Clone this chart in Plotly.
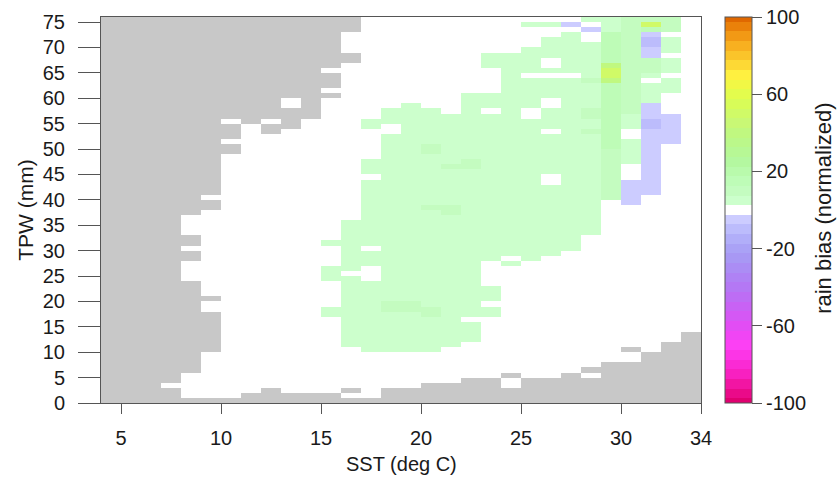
import plotly.graph_objects as go

# ---------------- data ----------------
sst_edges = [4, 34]            # SST axis range (deg C), 1-degree bins
tpw_edges = [0, 76]            # TPW axis range (mm), 1-mm bins
sst_centers = [4.5 + i for i in range(30)]
tpw_centers = [0.5 + j for j in range(76)]

x_ticks = [5, 10, 15, 20, 25, 30, 34]
y_ticks = list(range(0, 76, 5))
cbar_ticks = [100, 60, 20, -20, -60, -100]
cbar_ticktext = ["100", "60", "20", "-20", "-60", "-100"]

# bias level codes ('#' = no data (grey), '.' = near-zero / empty)
level_values = {"a": 5, "b": 10, "c": 15, "d": 40, "e": 52, "u": -5, "v": -10}

# one string per TPW bin, from TPW 75 (top) down to TPW 0; one char per SST bin 4..33
bias_rows = [
    "#############...........aabbb.",  # 75
    "#############........aau.abeb.",  # 74
    "#############...........uabcb.",  # 73
    "############...........a.cbu..",  # 72
    "############..........aa.cbva.",  # 71
    "############..........aaacbva.",  # 70
    "############.........aaaacbua.",  # 69
    "#############......aaaaaacbu..",  # 68
    "#############......aaa.aacbba.",  # 67
    "############.......aaa.aadbba.",  # 66
    "###########.........aaaaaebba.",  # 65
    "############........a...aeba..",  # 64
    "############........aaaabdb.a.",  # 63
    "############........aaaaacbaa.",  # 62
    "###########.........aaaaacbaa.",  # 61
    "############......aaaaaaacba..",  # 60
    "#########.#.......aaaa.aacba..",  # 59
    "#########.#....a..aaaa.aacbu..",  # 58
    "###########...aaa.a.a.aabcbu..",  # 57
    "###########...aaaaaaa.aabcauu.",  # 56
    "######.#.#...aaaaaaaaaaaacavu.",  # 55
    "#######.##...a.aaaaaaaaaacavu.",  # 54
    "#######.#......aaaaaaa.abc.uu.",  # 53
    "#######.......aaaaaaaaaaac.uu.",  # 52
    "######........aaaaaaaaaaacauu.",  # 51
    "#######.......aabaaaaaaaacau..",  # 50
    "#######.......aabaaaaaaaabau..",  # 49
    "######........aaaaaaaaaaabau..",  # 48
    "######.......aaaaabaaaaaabau..",  # 47
    "######.......aaaabbaaaaaab.u..",  # 46
    "######.......aaaaaaaaaaaab.u..",  # 45
    "######........aaaaaaaa.aab.u..",  # 44
    "######.......aaaaaaaaa.aabuu..",  # 43
    "######.......aaaaaaaaaaaabuu..",  # 42
    "######.......aaaaaaaaaaaabuu..",  # 41
    "#####........aaaaaaaaaaaabu...",  # 40
    "######.......aaaaaaaaaaaa.u...",  # 39
    "######.......aaabbaaaaaaa.....",  # 38
    "#####........aaaabaaaaaaa.....",  # 37
    "####.........aaaaaaaaaaaa.....",  # 36
    "####........aaaaaaaaaaaaa.....",  # 35
    "####........aaaaaaaaaaaaa.....",  # 34
    "####........aaaaaaaaaaaaa.....",  # 33
    "#####.......aaaaaaaaaaaa......",  # 32
    "#####......aaaaaaaaaaaaa......",  # 31
    "####........a.aaaaaaaaaa......",  # 30
    "#####.......aaaaaaaaaaa.......",  # 29
    "#####.......aaaaaaaa.a........",  # 28
    "####........aaaaaaa.a.........",  # 27
    "####.......aa.aaaaa...........",  # 26
    "####.......a..aaaaa...........",  # 25
    "####.......aa.aaaaa...........",  # 24
    "#####.......aaaaaaa...........",  # 23
    "#####.......aaaaaaaa..........",  # 22
    "#####.......aaaaaaaa..........",  # 21
    "######......aaaaaaaa..........",  # 20
    "#####.......aabbaaa...........",  # 19
    "#####......aaabbbaaa..........",  # 18
    "######.....aaaaabaaa..........",  # 17
    "######......aaaaaa............",  # 16
    "######......aaaaaaa...........",  # 15
    "######......aaaaaaa...........",  # 14
    "######......aaaaaaa..........#",  # 13
    "######......aaaaaaa..........#",  # 12
    "######......aaaaaa..........##",  # 11
    "######.......aaaa.........#.##",  # 10
    "#####......................###",  # 9
    "#####......................###",  # 8
    "#####....................#####",  # 7
    "#####...................######",  # 6
    "####................#..#.#####",  # 5
    "####..............##.#########",  # 4
    "###.............####.#########",  # 3
    "####....#...#.################",  # 2
    "####...#####..################",  # 1
    "##############################",  # 0
]

# colour bar anchor colours (value, colour)
anchor_vals = [-100, -92, -85, -77, -70, -62, -55, -47, -40, -32, -25, -17, -10, -5,
               5, 10, 17, 25, 32, 40, 47, 55, 62, 70, 77, 85, 92, 100]
anchor_cols = ["#e00070", "#f01098", "#f820c0", "#fc30e0", "#fc40f4", "#e848f4", "#d458f4",
               "#c068f4", "#b478f4", "#ac88f4", "#a898f4", "#aca8f8", "#bcbcfc", "#ccccff",
               "#ccffcc", "#c4fcc0", "#bcfcb4", "#b4f8a0", "#b8f890", "#c0f880", "#ccf870",
               "#d8fc58", "#e8fc48", "#fff040", "#fcd030", "#f8b020", "#f09010", "#e06800"]


# ---------------- build ----------------
def hex2rgb(h):
    h = h.lstrip("#")
    return [int(h[i:i + 2], 16) for i in (0, 2, 4)]


def interp_color(v):
    if v <= anchor_vals[0]:
        return anchor_cols[0]
    if v >= anchor_vals[-1]:
        return anchor_cols[-1]
    for i in range(len(anchor_vals) - 1):
        v0, v1 = anchor_vals[i], anchor_vals[i + 1]
        if v0 <= v <= v1:
            t = (v - v0) / (v1 - v0)
            c0, c1 = hex2rgb(anchor_cols[i]), hex2rgb(anchor_cols[i + 1])
            c = [round(c0[k] + t * (c1[k] - c0[k])) for k in range(3)]
            return "rgb(%d,%d,%d)" % tuple(c)
    return "#ffffff"


zmin, zmax = -100, 100
colorscale = []
for k in range(-20, 21):
    cval = 5 * k
    lo, hi = max(zmin, cval - 2.5), min(zmax, cval + 2.5)
    col = "#ffffff" if k == 0 else interp_color(cval)
    colorscale.append([(lo - zmin) / (zmax - zmin), col])
    colorscale.append([(hi - zmin) / (zmax - zmin), col])

rows_up = bias_rows[::-1]
z_bias = [[level_values.get(ch) for ch in row] for row in rows_up]
z_mask = [[1 if ch == "#" else None for ch in row] for row in rows_up]

FONT = "Liberation Sans, Arial, Helvetica, sans-serif"
TXT = "#1a1a1a"
LINE = "#555555"

fig = go.Figure()
fig.add_trace(go.Heatmap(
    x=sst_centers, y=tpw_centers, z=z_mask,
    colorscale=[[0, "#c8c8c8"], [1, "#c8c8c8"]], zmin=0, zmax=1,
    showscale=False, hoverinfo="skip",
))
fig.add_trace(go.Heatmap(
    x=sst_centers, y=tpw_centers, z=z_bias,
    colorscale=colorscale, zmin=zmin, zmax=zmax,
    colorbar=dict(
        x=1.04, xanchor="left", xpad=0, ypad=0,
        y=0.5, yanchor="middle", len=1, lenmode="fraction",
        thickness=27, thicknessmode="pixels",
        outlinewidth=1, outlinecolor=LINE,
        tickmode="array", tickvals=cbar_ticks, ticktext=cbar_ticktext,
        ticks="outside", ticklen=10, tickcolor=LINE, tickwidth=1,
        tickfont=dict(family=FONT, size=20, color=TXT),
    ),
))

fig.update_layout(
    width=839, height=478,
    margin=dict(l=101, r=138, t=11, b=75),
    paper_bgcolor="white", plot_bgcolor="white",
    font=dict(family=FONT, size=20, color=TXT),
    xaxis=dict(
        range=sst_edges, tickmode="array", tickvals=x_ticks,
        ticks="outside", ticklen=10, tickcolor=LINE, tickwidth=1,
        ticklabelstandoff=7,
        showline=True, linecolor=LINE, linewidth=1, mirror=True,
        showgrid=False, zeroline=False,
        tickfont=dict(family=FONT, size=20, color=TXT),
    ),
    yaxis=dict(
        range=tpw_edges, tickmode="array", tickvals=y_ticks,
        ticks="outside", ticklen=22, tickcolor=LINE, tickwidth=1,
        ticklabelstandoff=9,
        showline=True, linecolor=LINE, linewidth=1, mirror=True,
        showgrid=False, zeroline=False,
        tickfont=dict(family=FONT, size=20, color=TXT),
    ),
    annotations=[
        dict(text="SST (deg C)", xref="paper", yref="paper", x=0.5, y=-0.158,
             xanchor="center", yanchor="middle", showarrow=False,
             font=dict(family=FONT, size=20, color=TXT)),
        dict(text="TPW (mm)", xref="paper", yref="paper", x=-0.127, y=0.5,
             xanchor="center", yanchor="middle", textangle=-90, showarrow=False,
             font=dict(family=FONT, size=21, color=TXT)),
        dict(text="rain bias (normalized)", xref="paper", yref="paper", x=1.203, y=0.505,
             xanchor="center", yanchor="middle", textangle=-90, showarrow=False,
             font=dict(family=FONT, size=22, color=TXT)),
    ],
)

fig.write_html("out.html")
